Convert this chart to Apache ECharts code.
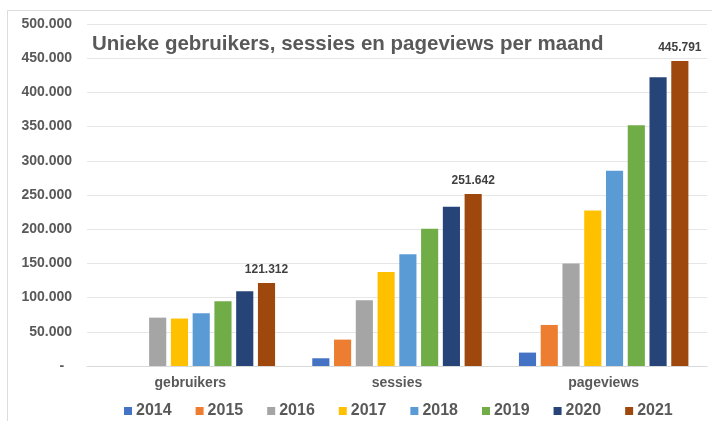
<!DOCTYPE html>
<html>
<head>
<meta charset="utf-8">
<script src="https://cdn.jsdelivr.net/npm/echarts@6/dist/echarts.min.js"></script>
<style>
  html, body { margin: 0; padding: 0; background: #fff; }
  #main { width: 712px; height: 421px; }
</style>
</head>
<body>
<div id="main"></div>
<script>
var categories = ['gebruikers', 'sessies', 'pageviews'];
var years = ['2014', '2015', '2016', '2017', '2018', '2019', '2020', '2021'];
var colors = ['#4472C4', '#ED7D31', '#A5A5A5', '#FFC000', '#5B9BD5', '#70AD47', '#264478', '#9E480E'];

// per jaar: [gebruikers, sessies, pageviews]
var v2014 = [null, 11300, 19600];
var v2015 = [null, 38600, 60000];
var v2016 = [70700, 96100, 149800];
var v2017 = [69400, 137500, 227400];
var v2018 = [77100, 163400, 285500];
var v2019 = [94700, 200500, 351800];
var v2020 = [109300, 232700, 422000];
var v2021 = [121312, 251642, 445791];
var values = [v2014, v2015, v2016, v2017, v2018, v2019, v2020, v2021];

var yTicks = [0, 50000, 100000, 150000, 200000, 250000, 300000, 350000, 400000, 450000, 500000];

function dotNum(n) {
    return String(n).replace(/\B(?=(\d{3})+(?!\d))/g, '.');
}

var myChart = echarts.init(document.getElementById('main'));

var series = [];
for (var i = 0; i < years.length; i++) {
    var s = {
        name: years[i],
        type: 'bar',
        data: values[i],
        barGap: '27%',
        barCategoryGap: '18%',
        itemStyle: { color: colors[i] }
    };
    if (i === years.length - 1) {
        s.label = {
            show: true,
            position: 'top',
            distance: 7,
            color: '#404040',
            fontSize: 12,
            fontWeight: 'bold',
            fontFamily: 'Liberation Sans, Arial, sans-serif',
            formatter: function (p) { return dotNum(p.value); }
        };
    }
    series.push(s);
}

var option = {
    animation: false,
    backgroundColor: '#fff',
    textStyle: { fontFamily: 'Liberation Sans, Arial, sans-serif' },
    graphic: [{
        type: 'rect',
        shape: { x: 7.5, y: 10.5, width: 720, height: 420 },
        style: { fill: 'none', stroke: '#dcdcdc', lineWidth: 1 },
        z: -1
    }],
    title: {
        text: 'Unieke gebruikers, sessies en pageviews per maand',
        left: 87,
        top: 29,
        textStyle: { color: '#595959', fontSize: 20.5, fontWeight: 'bold', fontFamily: 'Liberation Sans, Arial, sans-serif' }
    },
    legend: {
        top: 398,
        left: 119,
        itemWidth: 8,
        itemHeight: 8,
        itemGap: 24,
        icon: 'rect',
        textStyle: { color: '#595959', fontSize: 16, fontWeight: 'bold', padding: [0, 0, 0, -1] },
        data: years
    },
    grid: { left: 87, right: 5, top: 24, bottom: 55 },
    xAxis: {
        type: 'category',
        data: categories,
        axisLine: { lineStyle: { color: '#d9d9d9' } },
        axisTick: { show: false },
        axisLabel: { color: '#595959', fontSize: 14, fontWeight: 'bold', margin: 10 }
    },
    yAxis: {
        type: 'value',
        min: yTicks[0],
        max: yTicks[yTicks.length - 1],
        interval: yTicks[1] - yTicks[0],
        axisLine: { show: false },
        axisTick: { show: false },
        splitLine: { lineStyle: { color: '#e6e6e6' } },
        axisLabel: {
            color: '#595959',
            fontSize: 14,
            fontWeight: 'bold',
            margin: 15,
            formatter: function (v) { return v === 0 ? '-  ' : dotNum(v); }
        }
    },
    series: series
};

myChart.setOption(option);
</script>
</body>
</html>
